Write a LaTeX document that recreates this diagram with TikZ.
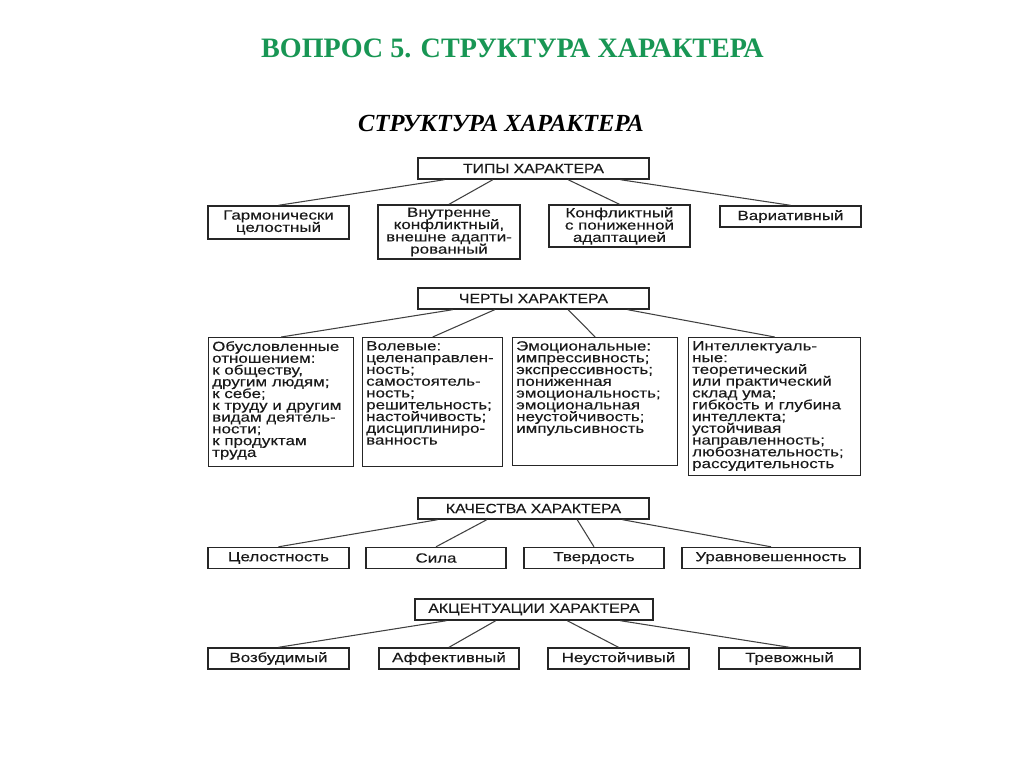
\documentclass[tikz,border=0pt]{standalone}
\usepackage{fontspec}
\setmainfont{Liberation Serif}
\newfontfamily\cellfont{Liberation Sans}[FakeStretch=1.27,FakeBold=0.2]
\newfontfamily\headfont{Liberation Sans}[FakeStretch=1.18,FakeBold=0.2]
\usetikzlibrary{calc}
\definecolor{titlegreen}{RGB}{24,150,84}
\setlength{\lineskiplimit}{-10pt}
\newcommand{\traittext}[3]{\parbox[t][#2][t]{#1}{\raggedright\fontsize{7.6pt}{6.7pt}\selectfont\setlength{\lineskiplimit}{-10pt}#3}}

\begin{document}
\begin{tikzpicture}[x=0.02cm,y=-0.02cm,
  cell/.style={draw=black!85, line width=0.8pt, inner sep=0pt, align=center, text=black!90,
    font=\cellfont\fontsize{7.6pt}{7pt}\selectfont},
  hdr/.style={cell, font=\headfont\fontsize{7.6pt}{7pt}\selectfont, minimum width=4.62cm, minimum height=0.42cm},
  trait/.style={cell, anchor=north west, inner xsep=0.07cm, inner ysep=0.07cm},
  link/.style={draw=black!75, line width=0.6pt}]
  \useasboundingbox[fill=white] (0,0) rectangle (1024,767);
  % titles
  \node[font=\bfseries\fontsize{16pt}{18pt}\selectfont, text=titlegreen] (title) at (512.5,48) {ВОПРОС 5. СТРУКТУРА ХАРАКТЕРА};
  \node[font=\bfseries\itshape\fontsize{14pt}{16pt}\selectfont] (subtitle) at (501,123) {СТРУКТУРА ХАРАКТЕРА};
  % types
  \node[hdr] (tipy) at (533.5,168.5) {ТИПЫ ХАРАКТЕРА};
  \node[cell, minimum width=2.82cm, minimum height=0.66cm] (garm) at (278.5,222.5) {Гармонически\\целостный};
  \node[cell, minimum width=2.84cm, minimum height=1.08cm] (vnutr) at (449,232) {Внутренне\\конфликтный,\\внешне адапти-\\рованный};
  \node[cell, minimum width=2.82cm, minimum height=0.84cm] (konfl) at (619.5,226) {Конфликтный\\с пониженной\\адаптацией};
  \node[cell, minimum width=2.82cm, minimum height=0.42cm] (variat) at (790.5,216.5) {Вариативный};
  \foreach \f/\c in {0.117/garm,0.325/vnutr,0.649/konfl,0.874/variat}
    \draw[link] ($(tipy.south west)!\f!(tipy.south east)$) -- (\c.north);
  % traits
  \node[hdr] (cherty) at (533.5,298.5) {ЧЕРТЫ ХАРАКТЕРА};
  \node[trait] (otnosh) at (208,337) {\traittext{2.76cm}{2.44cm}{Обусловленные\\отношением:\\к обществу,\\другим людям;\\к себе;\\к труду и другим\\видам деятель-\\ности;\\к продуктам\\труда}};
  \node[trait] (volev) at (362,337) {\traittext{2.66cm}{2.44cm}{Волевые:\\целенаправлен-\\ность;\\самостоятель-\\ность;\\решительность;\\настойчивость;\\дисциплиниро-\\ванность}};
  \node[trait] (emoc) at (512,337) {\traittext{3.16cm}{2.42cm}{Эмоциональные:\\импрессивность;\\экспрессивность;\\пониженная\\эмоциональность;\\эмоциональная\\неустойчивость;\\импульсивность}};
  \node[trait] (intel) at (688,337) {\traittext{3.30cm}{2.62cm}{Интеллектуаль-\\ные:\\теоретический\\или практический\\склад ума;\\гибкость и глубина\\интеллекта;\\устойчивая\\направленность;\\любознательность;\\рассудительность}};
  \foreach \f/\c in {0.152/otnosh,0.333/volev,0.649/emoc,0.905/intel}
    \draw[link] ($(cherty.south west)!\f!(cherty.south east)$) -- (\c.north);
  % qualities
  \node[hdr] (kach) at (533.5,508.5) {КАЧЕСТВА ХАРАКТЕРА};
  \node[cell, minimum width=2.82cm, minimum height=0.42cm] (celost) at (278.5,558) {Целостность};
  \node[cell, minimum width=2.80cm, minimum height=0.42cm] (sila) at (436,558) {Сила};
  \node[cell, minimum width=2.80cm, minimum height=0.42cm] (tverd) at (594,558) {Твердость};
  \node[cell, minimum width=3.56cm, minimum height=0.42cm] (uravn) at (771,558) {Уравновешенность};
  \foreach \f/\c in {0.087/celost,0.299/sila,0.688/tverd,0.883/uravn}
    \draw[link] ($(kach.south west)!\f!(kach.south east)$) -- (\c.north);
  % accentuations
  \node[hdr, minimum width=4.76cm] (akcent) at (534,609.5) {АКЦЕНТУАЦИИ ХАРАКТЕРА};
  \node[cell, minimum width=2.82cm, minimum height=0.42cm] (vozb) at (278.5,658.5) {Возбудимый};
  \node[cell, minimum width=2.80cm, minimum height=0.42cm] (affekt) at (449,658.5) {Аффективный};
  \node[cell, minimum width=2.82cm, minimum height=0.42cm] (neust) at (618.5,658.5) {Неустойчивый};
  \node[cell, minimum width=2.82cm, minimum height=0.42cm] (trev) at (789.5,658.5) {Тревожный};
  \foreach \f/\c in {0.134/vozb,0.340/affekt,0.639/neust,0.861/trev}
    \draw[link] ($(akcent.south west)!\f!(akcent.south east)$) -- (\c.north);
\end{tikzpicture}
\end{document}
